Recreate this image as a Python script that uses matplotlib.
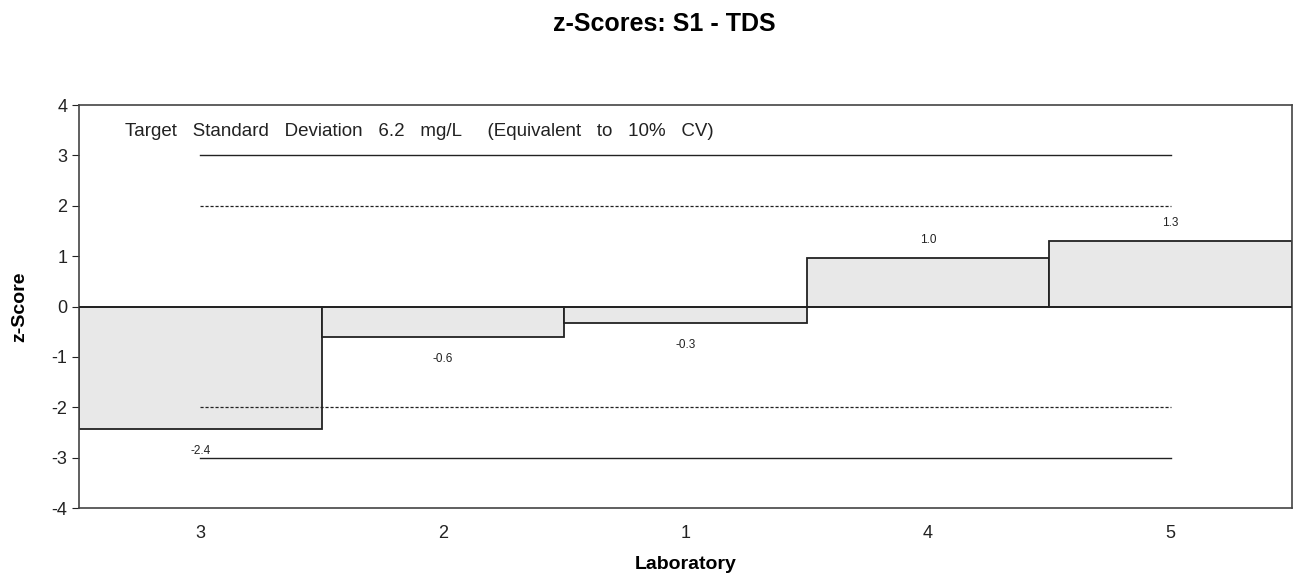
import matplotlib
matplotlib.use("Agg")
import matplotlib.pyplot as plt

labs = ["3", "2", "1", "4", "5"]
zscores = [-2.43, -0.61, -0.32, 0.97, 1.30]
zlabels = ["-2.4", "-0.6", "-0.3", "1.0", "1.3"]
yticks = [-4, -3, -2, -1, 0, 1, 2, 3, 4]
note = "Target   Standard   Deviation   6.2   mg/L     (Equivalent   to   10%   CV)"
title = "z-Scores: S1 - TDS"

plt.rcParams['font.family'] = ['Liberation Sans', 'DejaVu Sans']
plt.rcParams['axes.unicode_minus'] = False

fig = plt.figure(figsize=(13.01, 5.78), dpi=100)
ax = fig.add_axes([0.0607, 0.1211, 0.9323, 0.6972])

x = list(range(len(labs)))
ax.bar(x, zscores, width=1.0, color="#e8e8e8", edgecolor="#222222", linewidth=1.3, zorder=2)
ax.axhline(0, color="#222222", linewidth=1.3, zorder=3)

for yv in (3, -3):
    ax.plot([x[0], x[-1]], [yv, yv], color="#222222", linewidth=1.0, zorder=3)
for yv in (2, -2):
    ax.plot([x[0], x[-1]], [yv, yv], color="#222222", linewidth=0.9, linestyle=(0, (2.5, 1.5)), zorder=3)

for xi, v, t in zip(x, zscores, zlabels):
    off = 13 if v >= 0 else -16
    ax.annotate(t, (xi, v), xytext=(0, off), textcoords="offset points",
                ha="center", va="center", fontsize=8.5, color="#222222")

ax.text(0.038, 0.935, note, transform=ax.transAxes, fontsize=13.5,
        color="#222222", va="center", ha="left")

ax.set_xlim(-0.5, len(labs) - 0.5)
ax.set_ylim(-4, 4)
ax.set_yticks(yticks)
ax.set_xticks(x)
ax.set_xticklabels(labs)
ax.tick_params(axis="x", length=0, pad=12, labelsize=13, colors="#222222")
ax.tick_params(axis="y", length=5, labelsize=13, colors="#222222", direction="out")
for s in ax.spines.values():
    s.set_color("#444444")
    s.set_linewidth(1.2)

ax.set_xlabel("Laboratory", fontsize=14, fontweight="bold")
ax.set_ylabel("z-Score", fontsize=14, fontweight="bold")
ax.xaxis.set_label_coords(0.5, -0.141)
ax.yaxis.set_label_coords(-0.0486, 0.5)
ax.xaxis.label.set_va("center")
ax.yaxis.label.set_va("center")
fig.text(0.511, 1 - 24 / 578, title, fontsize=18, fontweight="bold",
         ha="center", va="center")

fig.savefig("out.png", dpi=100)
